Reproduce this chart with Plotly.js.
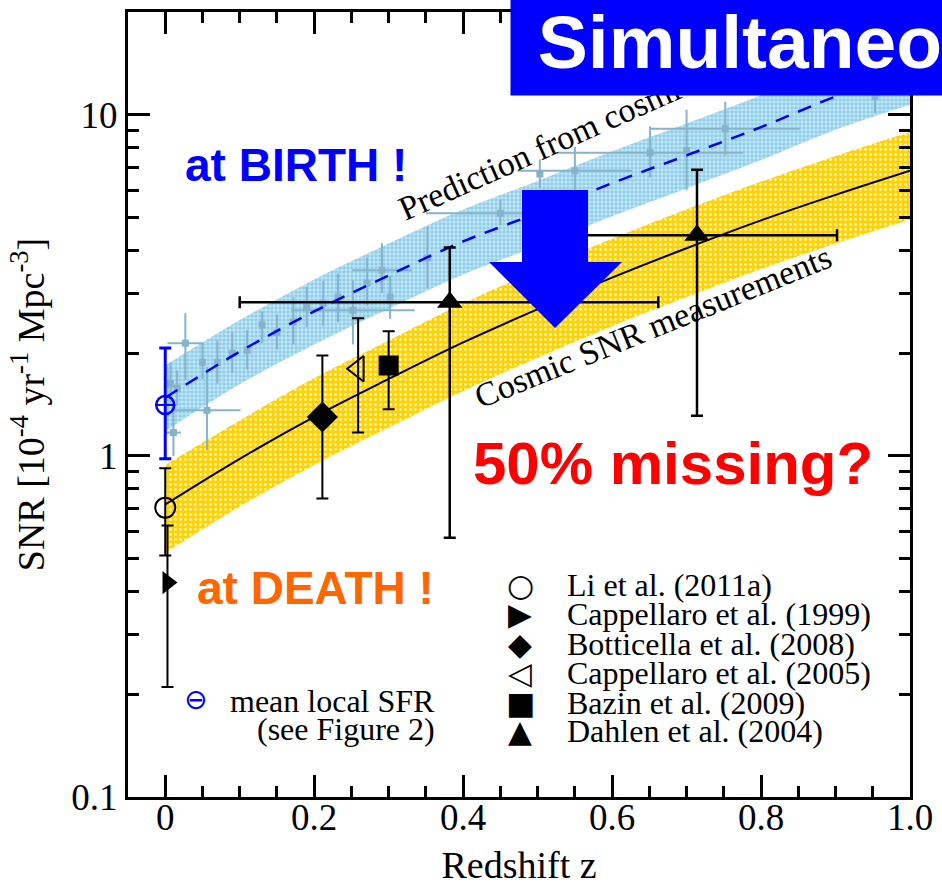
<!DOCTYPE html>
<html>
<head>
<meta charset="utf-8">
<script src="https://cdn.plot.ly/plotly-3.0.1.min.js"></script>
<style>html,body{margin:0;padding:0;background:#fff;}#chart{width:942px;height:886px;}</style>
</head>
<body>
<div id="chart"></div>
<script>
// ---- Data ----
// Model curves sampled along redshift
const curveZ = [0, 0.1, 0.2, 0.3, 0.4, 0.5, 0.6, 0.7, 0.8, 0.9, 1.0];
const snrFit = [0.72, 0.98, 1.30, 1.68, 2.15, 2.69, 3.33, 4.06, 4.90, 5.82, 6.85];
const snrBandUpper = [0.94, 1.27, 1.69, 2.18, 2.80, 3.50, 4.33, 5.28, 6.37, 7.57, 8.90];
const snrBandLower = [0.52, 0.71, 0.94, 1.21, 1.55, 1.94, 2.40, 2.92, 3.53, 4.19, 4.93];
const sfrPred = [1.48, 2.02, 2.65, 3.38, 4.25, 5.15, 6.30, 7.60, 9.20, 11.3, 13.4];
const sfrBandUpper = [1.84, 2.50, 3.29, 4.19, 5.27, 6.39, 7.81, 9.42, 11.4, 14.0, 16.6];
const sfrBandLower = [1.18, 1.62, 2.12, 2.70, 3.40, 4.12, 5.04, 6.08, 7.36, 9.04, 10.7];

// Cosmic SFR data points (light blue)
const sfrZ = [0.007, 0.016, 0.011, 0.027, 0.05, 0.056, 0.07, 0.09, 0.11, 0.13, 0.15, 0.172, 0.19, 0.212, 0.232, 0.252, 0.271, 0.291, 0.302, 0.352, 0.45, 0.503, 0.55, 0.651, 0.70, 0.752, 0.953];
const sfrY = [1.63, 1.58, 1.17, 2.14, 1.88, 1.36, 1.88, 2.00, 2.04, 2.42, 2.30, 2.47, 2.73, 2.80, 2.92, 2.67, 3.21, 3.50, 2.92, 3.80, 5.14, 6.70, 6.85, 7.74, 7.85, 9.10, 11.3];
const sfrXerr = [0, 0, 0.01, 0.024, 0, 0.045, 0, 0, 0, 0, 0, 0, 0, 0, 0, 0.083, 0, 0.04, 0, 0, 0.10, 0, 0.077, 0.125, 0, 0.10, 0];
const sfrYerrPlus = [0.25, 0.20, 0.24, 0.48, 0.25, 0.46, 0.30, 0.30, 0.30, 0.23, 0.30, 0.45, 0.40, 0.45, 0.50, 0.60, 0.60, 0.70, 0.45, 0.90, 0.50, 0.70, 1.20, 1.50, 2.50, 1.80, 1.50];
const sfrYerrMinus = [0.20, 0.18, 0.17, 0.47, 0.20, 0.32, 0.25, 0.25, 0.25, 0.28, 0.25, 0.35, 0.35, 0.40, 0.45, 0.55, 0.45, 0.50, 0.40, 0.70, 0.40, 0.60, 1.10, 1.20, 1.85, 1.50, 1.20];

// Mean local SFR
const localZ = [0];
const localY = [1.41];
const localYPlus = [0.66];
const localYMinus = [0.43];

// SN rate measurements
const liZ = [0], liY = [0.705], liPlus = [0.215], liMinus = [0.195];
const cap99Z = [0.003], cap99Y = [0.425], cap99Plus = [0.20], cap99Minus = [0.215];
const botZ = [0.211], botY = [1.30], botPlus = [0.67], botMinus = [0.55];
const cap05Z = [0.259], cap05Y = [1.80], cap05Plus = [0.73], cap05Minus = [0.63];
const bazZ = [0.30], bazY = [1.84], bazPlus = [0.48], bazMinus = [0.47];
const dahZ = [0.382, 0.714], dahY = [2.82, 4.43], dahPlus = [1.26, 2.47], dahMinus = [2.245, 3.12];
const dahXPlus = [0.28, 0.188], dahXMinus = [0.282, 0.19];

// Legend labels
const legendSymbols = ['\u25CB', '\u25B6', '\u25C6', '\u25C1', '\u25A0', '\u25B2'];
const legendLabels = ['Li et al. (2011a)', 'Cappellaro et al. (1999)', 'Botticella et al. (2008)', 'Cappellaro et al. (2005)', 'Bazin et al. (2009)', 'Dahlen et al. (2004)'];

// Tick labels
const xTickVals = [0, 0.2, 0.4, 0.6, 0.8, 1.0];
const xTickText = ['0', '0.2', '0.4', '0.6', '0.8', '1.0'];
const yTickVals = [0.1, 1, 10];
const yTickText = ['0.1', '1', '10'];
const yMinorVals = [0.2, 0.3, 0.4, 0.5, 0.6, 0.7, 0.8, 0.9, 2, 3, 4, 5, 6, 7, 8, 9];

// ---- Drawing ----
const SERIF = 'Liberation Serif, Times New Roman, serif';
const SANS = 'Liberation Sans, Arial, sans-serif';
const BLK = '#000000';
const LB = '#86B3CC';

function errY(plus, minus, color, thick, w) {
  return {type: 'data', symmetric: false, array: plus, arrayminus: minus, color: color, thickness: thick, width: w};
}

const traces = [
  {x: curveZ, y: snrBandLower, mode: 'lines', line: {width: 0, color: 'rgba(0,0,0,0)', shape: 'spline'}, hoverinfo: 'skip'},
  {x: curveZ, y: snrBandUpper, mode: 'lines', line: {width: 0, color: 'rgba(0,0,0,0)', shape: 'spline'}, fill: 'tonexty',
   fillcolor: '#FFD200',
   fillpattern: {shape: '.', bgcolor: '#FFD200', fgcolor: '#FFFFFF', fgopacity: 0.75, size: 5, solidity: 0.25}},
  {x: curveZ, y: sfrBandLower, mode: 'lines', line: {width: 0, color: 'rgba(0,0,0,0)', shape: 'spline'}, hoverinfo: 'skip'},
  {x: curveZ, y: sfrBandUpper, mode: 'lines', line: {width: 0, color: 'rgba(0,0,0,0)', shape: 'spline'}, fill: 'tonexty',
   fillcolor: '#8FCFEA',
   fillpattern: {shape: '+', bgcolor: '#8CCDEA', fgcolor: '#FFFFFF', fgopacity: 0.8, size: 4, solidity: 0.3}},
  {x: sfrZ, y: sfrY, mode: 'markers', marker: {symbol: 'square', size: 7, color: LB},
   error_y: errY(sfrYerrPlus, sfrYerrMinus, LB, 2, 0),
   error_x: {type: 'data', array: sfrXerr, color: LB, thickness: 2, width: 0}},
  {x: curveZ, y: sfrPred, mode: 'lines', line: {color: '#0000FF', width: 2.5, dash: '14px,10px', shape: 'spline'}},
  {x: curveZ, y: snrFit, mode: 'lines', line: {color: BLK, width: 2, shape: 'spline'}},
  {x: localZ, y: localY, mode: 'markers', marker: {symbol: 'circle-open', size: 18, color: '#0000FF', line: {width: 2.5, color: '#0000FF'}},
   error_y: errY(localYPlus, localYMinus, '#0000FF', 3, 6)},
  {x: localZ, y: localY, mode: 'markers', marker: {symbol: 'line-ew-open', size: 14, color: '#0000FF', line: {width: 2, color: '#0000FF'}}},
  {x: liZ, y: liY, mode: 'markers', marker: {symbol: 'circle-open', size: 20, color: BLK, line: {width: 2, color: BLK}},
   error_y: errY(liPlus, liMinus, BLK, 2, 6)},
  {x: cap99Z, y: cap99Y, mode: 'markers', marker: {symbol: 'triangle-right', size: 20, color: BLK},
   error_y: errY(cap99Plus, cap99Minus, BLK, 2, 6)},
  {x: botZ, y: botY, mode: 'markers', marker: {symbol: 'diamond', size: 24, color: BLK},
   error_y: errY(botPlus, botMinus, BLK, 2, 6)},
  {x: cap05Z, y: cap05Y, mode: 'markers', marker: {symbol: 'triangle-left-open', size: 22, color: BLK, line: {width: 2, color: BLK}},
   error_y: errY(cap05Plus, cap05Minus, BLK, 2, 6)},
  {x: bazZ, y: bazY, mode: 'markers', marker: {symbol: 'square', size: 20, color: BLK},
   error_y: errY(bazPlus, bazMinus, BLK, 2, 6)},
  {x: dahZ, y: dahY, mode: 'markers', marker: {symbol: 'triangle-up', size: 22, color: BLK},
   error_y: errY(dahPlus, dahMinus, BLK, 2.5, 6),
   error_x: {type: 'data', symmetric: false, array: dahXPlus, arrayminus: dahXMinus, color: BLK, thickness: 2.5, width: 6}}
];

// paper-coordinate helpers (plot area: x 128..910, y 12..797 px)
const px = v => (v - 128) / 782;
const py = v => (797 - v) / 785;

function ann(text, x, y, font, extra) {
  return Object.assign({text: text, x: px(x), y: py(y), xref: 'paper', yref: 'paper',
    xanchor: 'center', yanchor: 'middle', showarrow: false, font: font}, extra || {});
}

const legendRowY = [585, 614, 644, 673, 703, 731];
const annotations = [
  ann('Prediction from cosmic SFR', 578, 132, {family: SERIF, size: 34, color: BLK}, {textangle: -24}),
  ann('Cosmic SNR measurements', 653, 326, {family: SERIF, size: 34, color: BLK}, {textangle: -22}),
  ann('\u00A0Simultaneous', 510, 96, {family: SANS, size: 75, color: '#FFFFFF', weight: 'bold'},
      {xanchor: 'left', yanchor: 'bottom', width: 480, height: 94, align: 'left', valign: 'middle', borderpad: 6, bgcolor: '#0000FF'}),
  ann('at BIRTH !', 296, 165, {family: SANS, size: 46, color: '#0000FF', weight: 'bold'}),
  ann('at DEATH !', 315, 588, {family: SANS, size: 46, color: '#FF6600', weight: 'bold'}),
  ann('50% missing?', 673, 463, {family: SANS, size: 60, color: '#FF0000', weight: 'bold'}),
  ann('\u2296', 195, 699, {family: 'DejaVu Sans', size: 28, color: '#0000FF'}),
  ann('mean local SFR', 437, 701, {family: SERIF, size: 32, color: BLK}, {xanchor: 'right'}),
  ann('(see Figure 2)', 437, 729, {family: SERIF, size: 32, color: BLK}, {xanchor: 'right'})
];
legendLabels.forEach((lab, i) => {
  annotations.push(ann(legendSymbols[i], 520, legendRowY[i], {family: 'DejaVu Sans', size: 31, color: BLK}));
  annotations.push(ann(lab, 565, legendRowY[i], {family: SERIF, size: 32, color: BLK}, {xanchor: 'left'}));
});

const arrowPath = 'M ' + px(522) + ',' + py(190) + ' L ' + px(588) + ',' + py(190) + ' L ' + px(588) + ',' + py(262) +
  ' L ' + px(622) + ',' + py(262) + ' L ' + px(555) + ',' + py(328) + ' L ' + px(489) + ',' + py(262) +
  ' L ' + px(522) + ',' + py(262) + ' Z';

const layout = {
  width: 942, height: 886,
  margin: {l: 128, r: 32, t: 12, b: 89},
  paper_bgcolor: '#FFFFFF', plot_bgcolor: '#FFFFFF',
  showlegend: false,
  xaxis: {
    range: [-0.05, 1.0], showgrid: false, zeroline: false,
    showline: true, linecolor: BLK, linewidth: 3, mirror: 'ticks',
    ticks: 'inside', ticklen: 22, tickwidth: 3, tickcolor: BLK,
    tickmode: 'array', tickvals: xTickVals, ticktext: xTickText,
    tickfont: {family: SERIF, size: 37, color: BLK}, ticklabelstandoff: -14,
    minor: {dtick: 0.05, tick0: 0, ticks: 'inside', ticklen: 11, tickwidth: 3, tickcolor: BLK, showgrid: false},
    title: {text: 'Redshift z', font: {family: SERIF, size: 38, color: BLK}, standoff: 16}
  },
  yaxis: {
    type: 'log', range: [-1, Math.log10(20)], showgrid: false, zeroline: false,
    showline: true, linecolor: BLK, linewidth: 3, mirror: 'ticks',
    ticks: 'inside', ticklen: 22, tickwidth: 3, tickcolor: BLK,
    tickmode: 'array', tickvals: yTickVals, ticktext: yTickText,
    tickfont: {family: SERIF, size: 37, color: BLK}, ticklabelstandoff: 0,
    minor: {tickvals: yMinorVals, ticks: 'inside', ticklen: 11, tickwidth: 3, tickcolor: BLK, showgrid: false},
    title: {text: 'SNR [10<sup>-4</sup> yr<sup>-1</sup> Mpc<sup>-3</sup>]', font: {family: SERIF, size: 38, color: BLK}, standoff: 16}
  },
  shapes: [
    {type: 'path', xref: 'paper', yref: 'paper', path: arrowPath, fillcolor: '#0000FF', line: {width: 0}, layer: 'above'}
  ],
  annotations: annotations
};

Plotly.newPlot('chart', traces, layout, {staticPlot: true});
</script>
</body>
</html>
